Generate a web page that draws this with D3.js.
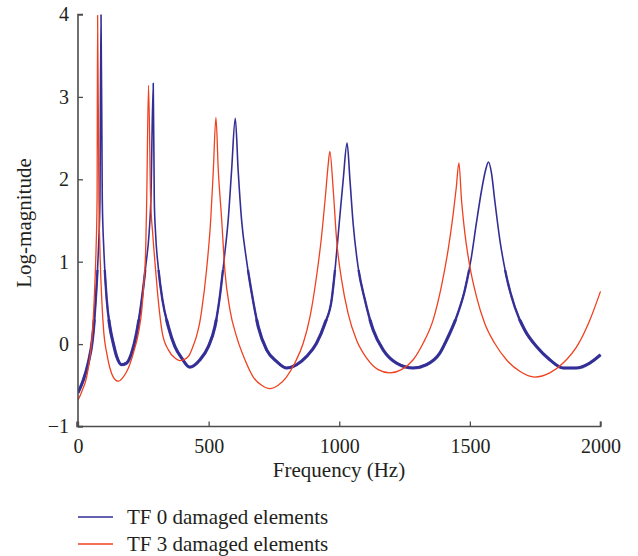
<!DOCTYPE html>
<html>
<head>
<meta charset="utf-8">
<script src="https://cdn.jsdelivr.net/npm/d3@7"></script>
<style>
  html, body { margin: 0; padding: 0; background: #fff; }
  svg { display: block; }
  text { font-family: "Liberation Serif", "DejaVu Serif", serif; fill: #231f20; }
</style>
</head>
<body>
<svg id="chart" width="638" height="556"></svg>
<script>
// ---- Data ----
const seriesNames = ["TF 0 damaged elements", "TF 3 damaged elements"];

const freq0 = [0,20,39,55,68,78,84,88,93,99,110,122,135,148,167,186,205,224,244,259,272,279,288,292,297,307,323,346,371,397,428,467,499,524,543,559,575,588,602,613,626,645,665,690,722,760,798,837,875,913,945,971,985,1000,1015,1030,1041,1053,1072,1098,1130,1168,1219,1283,1334,1385,1411,1449,1481,1506,1525,1545,1560,1571,1583,1595,1615,1640,1672,1710,1755,1806,1857,1908,1959,2000];
const mag0 = [-0.59,-0.44,-0.23,0.05,0.54,1.14,1.75,4.05,1.75,1.14,0.54,0.21,0.01,-0.15,-0.25,-0.23,-0.11,0.13,0.54,0.94,1.34,1.75,3.165,1.75,1.34,0.94,0.54,0.21,-0.03,-0.17,-0.28,-0.19,-0.03,0.21,0.58,1.02,1.51,2.11,2.74,2.11,1.51,1.02,0.62,0.21,-0.07,-0.21,-0.29,-0.25,-0.15,0.01,0.25,0.54,0.94,1.47,1.99,2.44,1.99,1.47,0.94,0.54,0.17,-0.07,-0.23,-0.29,-0.25,-0.11,0.05,0.33,0.66,1.06,1.47,1.87,2.11,2.21,2.07,1.75,1.26,0.82,0.45,0.17,-0.03,-0.19,-0.29,-0.29,-0.23,-0.13];

const freq3 = [0,14,33,46,55,62,69,73,75,80,84,91,99,110,122,135,154,173,193,212,231,244,252,259,263,270,278,286,296,307,323,346,371,390,422,441,454,467,473,492,508,518,528,537,550,562,582,607,639,671,703,735,766,798,830,862,888,913,932,948,958,964,977,990,1009,1034,1066,1105,1149,1194,1238,1283,1321,1360,1391,1417,1435,1448,1458,1468,1481,1500,1525,1557,1595,1640,1691,1748,1806,1857,1915,1959,2000];
const mag3 = [-0.68,-0.58,-0.40,-0.15,0.13,0.54,1.14,1.75,3.99,1.75,1.14,0.54,0.13,-0.11,-0.29,-0.40,-0.45,-0.40,-0.29,-0.11,0.13,0.41,0.74,1.14,1.75,3.14,1.75,1.34,0.94,0.54,0.13,-0.07,-0.17,-0.20,-0.15,-0.02,0.10,0.28,0.40,0.90,1.51,2.11,2.75,2.11,1.51,0.90,0.41,0.09,-0.19,-0.40,-0.50,-0.54,-0.50,-0.40,-0.23,0.01,0.33,0.82,1.30,1.83,2.19,2.34,1.87,1.26,0.78,0.37,0.05,-0.17,-0.31,-0.35,-0.31,-0.19,0.01,0.30,0.70,1.15,1.55,1.90,2.20,1.75,1.34,0.94,0.58,0.25,0.01,-0.19,-0.33,-0.40,-0.35,-0.23,0.00,0.29,0.64];

const xTicks = [0, 500, 1000, 1500, 2000];
const yTicks = [-1, 0, 1, 2, 3, 4];
const xLabel = "Frequency (Hz)";
const yLabel = "Log-magnitude";
const colors = ["#332e96", "#f0411f"];

// ---- Layout ----
const svg = d3.select("#chart");
const mLeft = 78, mRight = 600.5, mTop = 14.5, mBottom = 426.5;

const x = d3.scaleLinear().domain([0, 2000]).range([mLeft, mRight]);
const y = d3.scaleLinear().domain([-1, 4]).range([mBottom, mTop]);

const defs = svg.append("defs");
defs.append("clipPath").attr("id", "plotclip")
  .append("rect").attr("x", mLeft).attr("y", mTop).attr("width", mRight - mLeft + 2).attr("height", mBottom - mTop);
// lower band where the measured (noisy) curve looks thicker
defs.append("clipPath").attr("id", "lowclip")
  .append("rect").attr("x", mLeft).attr("y", y(0.9)).attr("width", mRight - mLeft + 2).attr("height", mBottom - y(0.9));
defs.append("clipPath").attr("id", "lowclip2")
  .append("rect").attr("x", mLeft).attr("y", y(0.3)).attr("width", mRight - mLeft + 2).attr("height", mBottom - y(0.3));

const series = [
  { name: seriesNames[0], pts: freq0.map((f, i) => [f, mag0[i]]), color: colors[0], w: 1.6 },
  { name: seriesNames[1], pts: freq3.map((f, i) => [f, mag3[i]]), color: colors[1], w: 1.3 }
];

const line = d3.line().x(d => x(d[0])).y(d => y(d[1])).curve(d3.curveMonotoneX);

const g = svg.append("g").attr("clip-path", "url(#plotclip)");
// thicker band for the noisy measured curve
g.append("path").datum(series[0].pts).attr("d", line).attr("fill", "none")
  .attr("stroke", series[0].color).attr("stroke-width", 2.4).attr("stroke-opacity", 0.9)
  .attr("clip-path", "url(#lowclip)");
g.append("path").datum(series[0].pts).attr("d", line).attr("fill", "none")
  .attr("stroke", series[0].color).attr("stroke-width", 3.2).attr("stroke-opacity", 0.85)
  .attr("clip-path", "url(#lowclip2)");
series.forEach(s => {
  g.append("path").datum(s.pts)
    .attr("d", line)
    .attr("fill", "none")
    .attr("stroke", s.color)
    .attr("stroke-width", s.w)
    .attr("stroke-linejoin", "round");
});

// ---- Axes ----
const axisColor = "#4d4d4d";
const xAxis = d3.axisBottom(x).tickValues(xTicks).tickSize(-5).tickPadding(12).tickFormat(d3.format("d"));
const yAxis = d3.axisLeft(y).tickValues(yTicks).tickSize(-5).tickPadding(9).tickFormat(d => d < 0 ? "\u2212" + Math.abs(d) : d);

const gx = svg.append("g").attr("transform", `translate(0,${mBottom})`).call(xAxis);
const gy = svg.append("g").attr("transform", `translate(${mLeft},0)`).call(yAxis);

[gx, gy].forEach(a => {
  a.select(".domain").attr("stroke", axisColor).attr("stroke-width", 1.6);
  a.selectAll(".tick line").attr("stroke", axisColor).attr("stroke-width", 1.3);
  a.selectAll(".tick text").attr("font-size", 20).attr("font-family", "Liberation Serif, serif").attr("fill", "#231f20");
});
gx.select(".domain").attr("d", `M${mLeft - 1},-5V0H${mRight}V-5`);
gy.select(".domain").attr("d", `M5,${mTop}H0V${mBottom}H5`);

svg.append("text")
  .attr("x", 339).attr("y", 477)
  .attr("text-anchor", "middle").attr("font-size", 21)
  .text(xLabel);

svg.append("text")
  .attr("transform", `translate(31,223) rotate(-90)`)
  .attr("text-anchor", "middle").attr("font-size", 21)
  .text(yLabel);

// ---- Legend ----
const lg = svg.append("g");
series.forEach((s, i) => {
  const yy = 517 + i * 27;
  lg.append("line").attr("x1", 78).attr("x2", 113).attr("y1", yy).attr("y2", yy)
    .attr("stroke", s.color).attr("stroke-width", 1.3);
  lg.append("text").attr("x", 127).attr("y", yy + 6.5).attr("font-size", 21).text(s.name);
});
</script>
</body>
</html>
